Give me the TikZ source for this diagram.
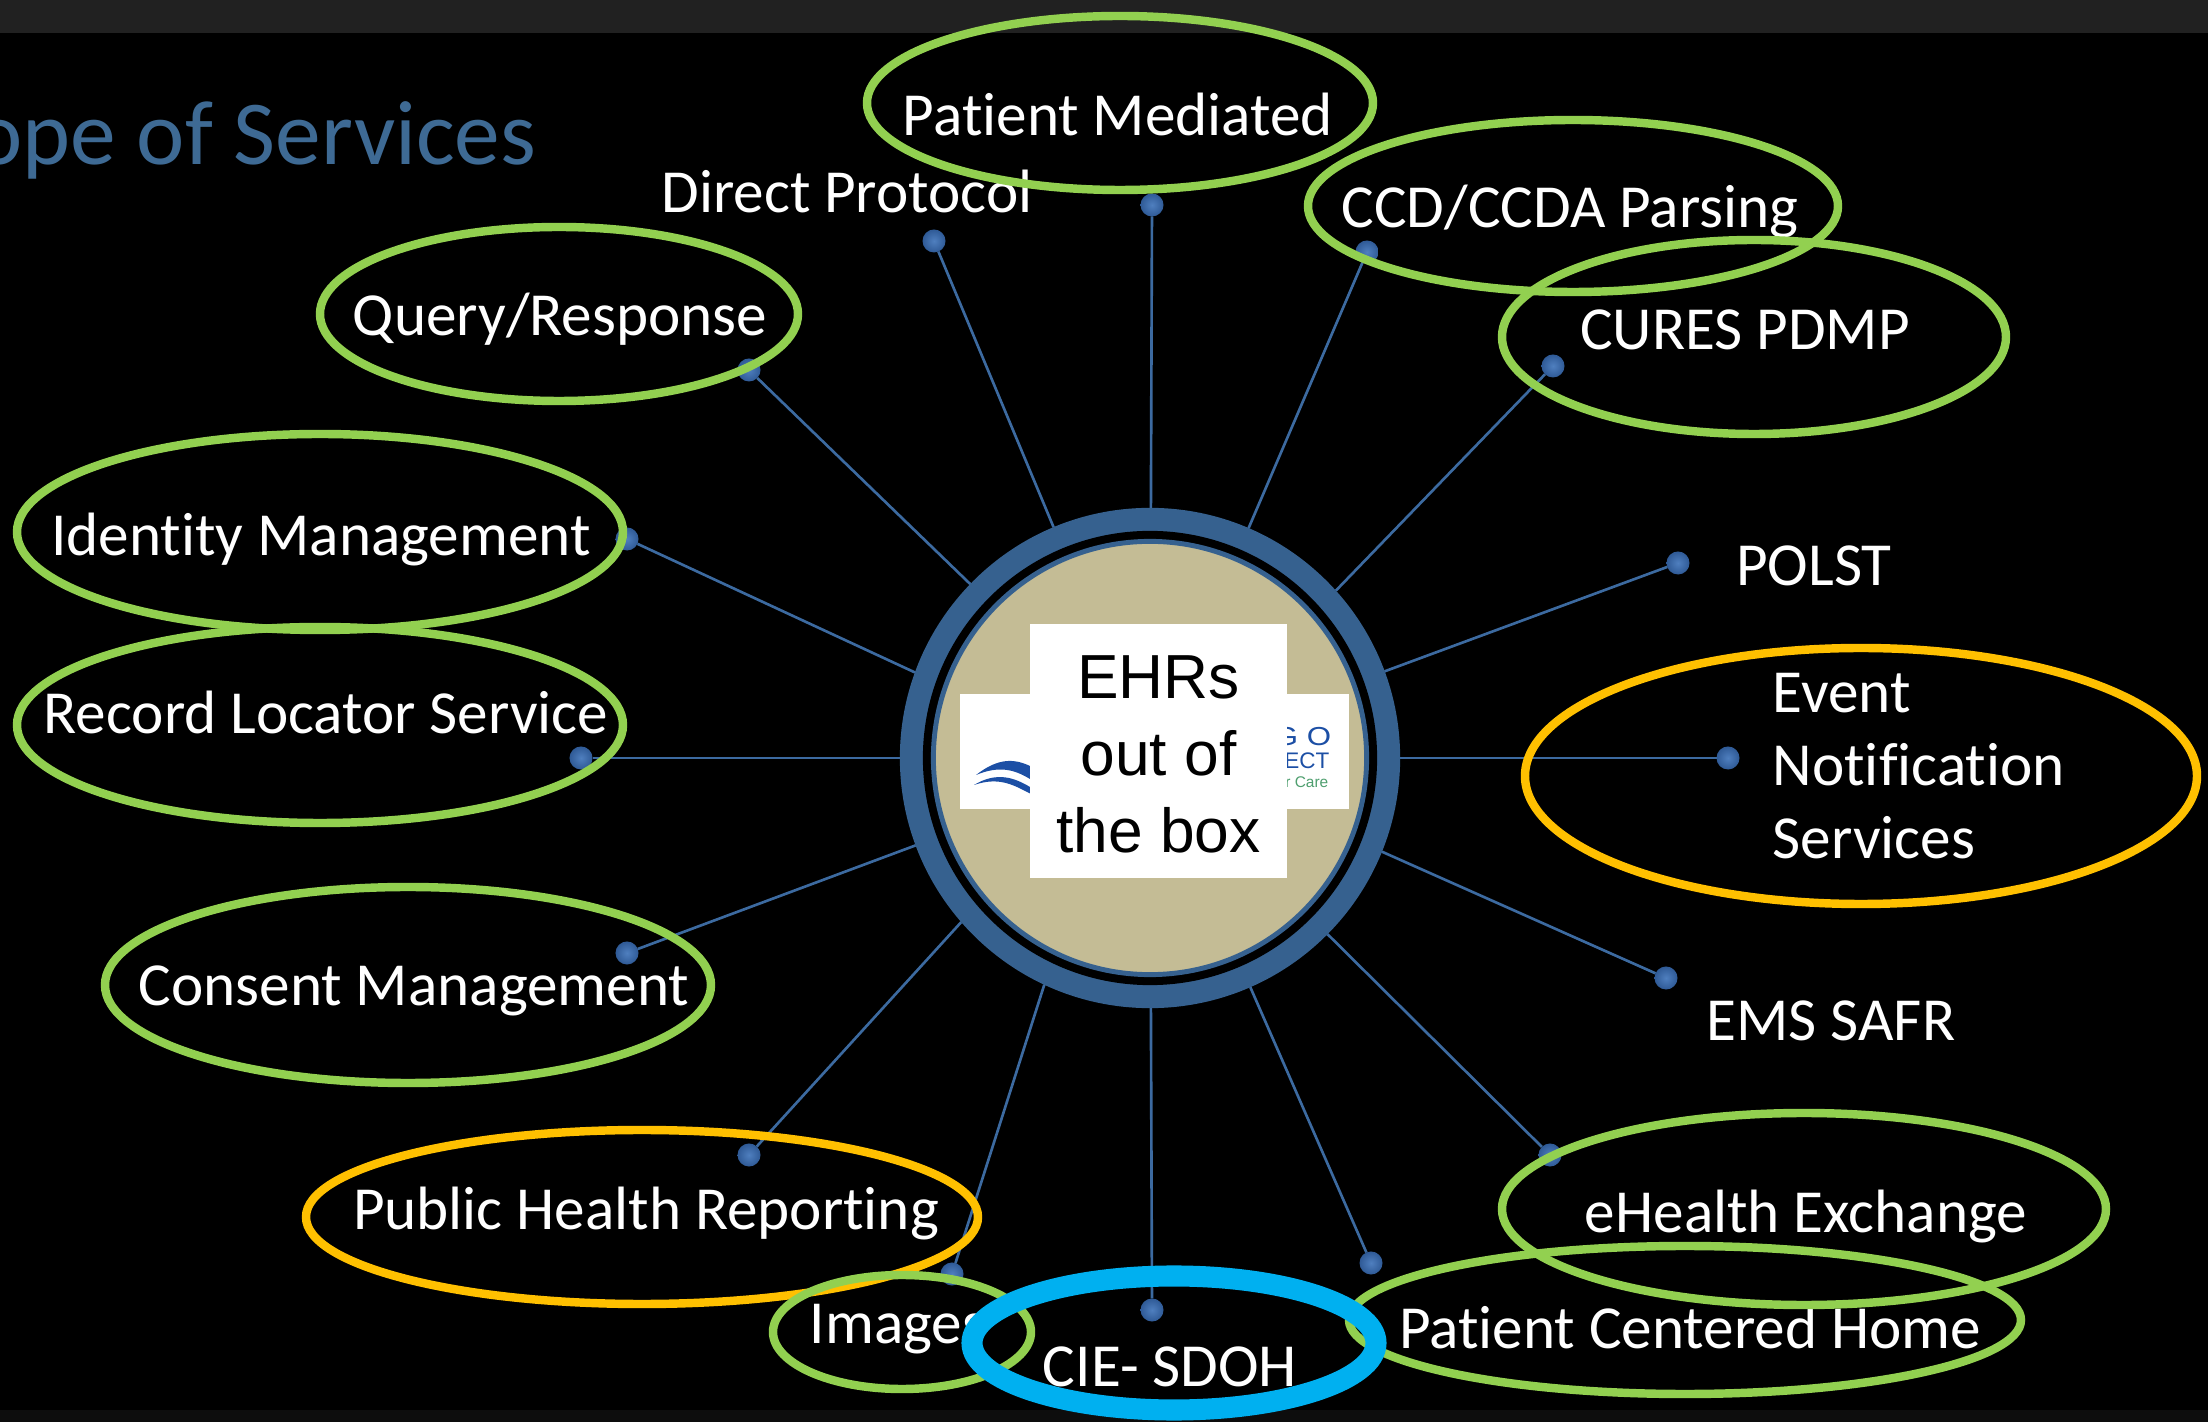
\documentclass[tikz,border=0pt]{standalone}
\usepackage{fontspec}
\setmainfont[Ligatures=NoCommon]{Carlito}
\newfontfamily\arialfont{Liberation Sans}
\usetikzlibrary{calc}
\definecolor{ringblue}{HTML}{36618F}
\definecolor{spokeblue}{HTML}{3C6AA0}
\definecolor{dotcore}{HTML}{4F7FBF}
\definecolor{dotedge}{HTML}{2F5A96}
\definecolor{titleblue}{HTML}{3E6A94}
\definecolor{hubtan}{HTML}{C4BC95}
\definecolor{ringgreen}{HTML}{92D050}
\definecolor{ringorange}{HTML}{FFC000}
\definecolor{ringcyan}{HTML}{00B0F0}
\definecolor{logoblue}{HTML}{1C4FA5}
\definecolor{logogreen}{HTML}{4F9F6F}
\definecolor{bandgrey}{HTML}{212121}
\definecolor{banddark}{HTML}{0D0D0D}
\tikzset{
	hubnode/.style={circle, inner sep=0pt, outer sep=0pt},
	spoke/.style={line width=0.75pt, color=spokeblue},
	dotnode/.style={circle, inner sep=0pt, outer sep=0pt, minimum size=0.23cm, inner color=dotcore, outer color=dotedge},
	label/.style={inner sep=0pt, text=white, font=\fontsize{17.4}{21}\selectfont},
	greenring/.style={line width=2.4pt, color=ringgreen},
	orangering/.style={line width=2.4pt, color=ringorange},
	cyanring/.style={line width=6pt, color=ringcyan}
}

\begin{document}
\begin{tikzpicture}[x=0.01cm, y=-0.01cm]
			%%%%% START %%%%%
			
			\useasboundingbox (0, 0) rectangle (2208, 1422);
			\fill[black] (0, 0) rectangle (2208, 1422);
			\fill[bandgrey] (0, 0) rectangle (2208, 33);
			\fill[banddark] (0, 1410) rectangle (2208, 1422);
			
			\node[anchor=base east, inner sep=0pt, text=titleblue, font=\fontsize{26}{30}\selectfont] (title) at (537, 165) {Scope of Services};
			
			% hub
			\node[hubnode, fill=ringblue, minimum size=5cm] (hub) at (1150, 758) {};
			\node[hubnode, fill=black, minimum size=4.54cm] (hubgap) at (hub) {};
			\node[hubnode, fill=hubtan, draw=ringblue, line width=1.4pt, minimum size=4.33cm] (hubcore) at (hub) {};
			
			% logo
			\node[fill=white, inner sep=0pt, minimum width=3.89cm, minimum height=1.15cm] (logobox) at (1154.5, 751.5) {};
			\fill[logoblue] (976, 775) .. controls (999, 757) and (1015, 759) .. (1030, 766) -- (1030, 779) .. controls (1015, 770) and (1000, 765) .. (976, 775);
			\fill[logoblue] (974, 785) .. controls (997, 771) and (1015, 778) .. (1030, 787) -- (1030, 793.5) .. controls (1015, 786) and (1000, 776) .. (974, 785);
			\node[anchor=east, inner sep=0pt, text=logoblue, xscale=1.2, font=\arialfont\fontsize{7.4}{8}\selectfont] (logotop) at (1332, 737) {G O};
			\node[anchor=east, inner sep=0pt, text=logoblue, font=\arialfont\fontsize{6.4}{7}\selectfont] (logomid) at (1330, 761) {ECT};
			\node[anchor=east, inner sep=0pt, text=logogreen, font=\arialfont\fontsize{4.4}{5}\selectfont] (logolow) at (1329, 782) {r Care};
			
			\node[fill=white, inner sep=0pt, minimum width=2.57cm, minimum height=2.53cm] (ehrbox) at (1158.5, 751) {};
			\node[inner sep=0pt, align=center, text=black, font=\arialfont\fontsize{17.7}{21.9}\selectfont] (ehrtext) at (1158.5, 754) {EHRs\\out of\\the box};
			
			% dots
			\node[dotnode] (dotMediated) at (1152, 205) {};
			\node[dotnode] (dotDirect) at (934, 241) {};
			\node[dotnode] (dotParsing) at (1367, 252) {};
			\node[dotnode] (dotCures) at (1553, 366) {};
			\node[dotnode] (dotPolst) at (1678, 563) {};
			\node[dotnode] (dotEvent) at (1728, 758) {};
			\node[dotnode] (dotSafr) at (1666, 978) {};
			\node[dotnode] (dotExchange) at (1550, 1155) {};
			\node[dotnode] (dotHome) at (1371, 1263) {};
			\node[dotnode] (dotSdoh) at (1152, 1310) {};
			\node[dotnode] (dotImages) at (952, 1274) {};
			\node[dotnode] (dotReporting) at (749, 1155) {};
			\node[dotnode] (dotConsent) at (627, 953) {};
			\node[dotnode] (dotLocator) at (581, 758) {};
			\node[dotnode] (dotIdentity) at (627, 539) {};
			\node[dotnode] (dotQuery) at (749, 370) {};
			
			% spokes
			\draw[spoke] (hub) -- (dotMediated);
			\draw[spoke] (hub) -- (dotDirect);
			\draw[spoke] (hub) -- (dotParsing);
			\draw[spoke] (hub.42.7) -- (dotCures);
			\draw[spoke] (hub) -- (dotPolst);
			\draw[spoke] (hub) -- (dotEvent);
			\draw[spoke] (hub.338.4) -- (dotSafr);
			\draw[spoke] (hub) -- (dotExchange);
			\draw[spoke] (hub) -- (dotHome);
			\draw[spoke] (hub) -- (dotSdoh);
			\draw[spoke] (hub.245.7) -- (dotImages);
			\draw[spoke] (hub.221.4) -- (dotReporting);
			\draw[spoke] (hub) -- (dotConsent);
			\draw[spoke] (hub) -- (dotLocator);
			\draw[spoke] (hub.160.3) -- (dotIdentity);
			\draw[spoke] (hub) -- (dotQuery);
			
			% labels
			\node[label] (textMediated) at (1118, 114) {Patient Mediated};
			\node[label] (textDirect) at (847, 191) {Direct Protocol};
			\node[label] (textParsing) at (1570, 212) {CCD/CCDA Parsing};
			\node[label] (textCures) at (1745, 330) {CURES PDMP};
			\node[label] (textPolst) at (1814, 566) {POLST};
			\node[label, anchor=west, align=left, font=\fontsize{17.4}{20.8}\selectfont] (textEvent) at (1772, 766) {Event\\Notification\\Services};
			\node[label] (textSafr) at (1831, 1021) {EMS SAFR};
			\node[label] (textExchange) at (1806, 1217) {eHealth Exchange};
			\node[label] (textHome) at (1690, 1327) {Patient Centered Home};
			\node[label] (textSdoh) at (1170, 1367) {CIE- SDOH};
			\node[label] (textImages) at (898, 1329) {Images};
			\node[label] (textReporting) at (646, 1214) {Public Health Reporting};
			\node[label] (textConsent) at (414, 991) {Consent Management};
			\node[label] (textLocator) at (326, 712) {Record Locator Service};
			\node[label] (textIdentity) at (321, 540) {Identity Management};
			\node[label] (textQuery) at (560, 319) {Query/Response};
			
			% rings
			\draw[greenring] (1120, 103) ellipse [x radius=253, y radius=87];
			\draw[greenring] (1573, 206) ellipse [x radius=265, y radius=86];
			\draw[greenring] (1754, 337) ellipse [x radius=252, y radius=97];
			\draw[greenring] (559, 314) ellipse [x radius=239, y radius=87];
			\draw[greenring] (320, 532) ellipse [x radius=303, y radius=98];
			\draw[greenring] (320, 725) ellipse [x radius=303, y radius=98];
			\draw[greenring] (408, 985) ellipse [x radius=303, y radius=98];
			\draw[orangering] (642, 1217) ellipse [x radius=336, y radius=87];
			\draw[greenring] (902, 1332) ellipse [x radius=129, y radius=57];
			\draw[greenring] (1685, 1320) ellipse [x radius=336, y radius=74];
			\draw[greenring] (1804, 1209) ellipse [x radius=302, y radius=96];
			\draw[orangering] (1861, 776) ellipse [x radius=336, y radius=128];
			\draw[cyanring] (1174, 1343) ellipse [x radius=202, y radius=67];
			
			%%%%% END %%%%%
		\end{tikzpicture}
\end{document}
